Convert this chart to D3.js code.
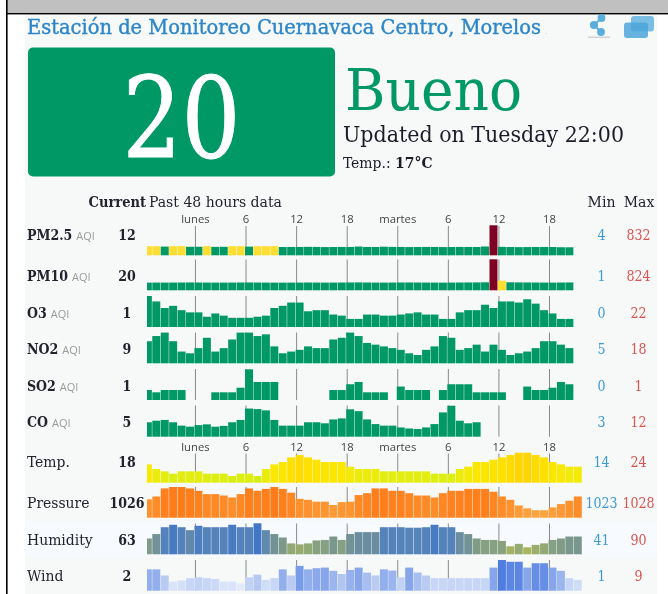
<!DOCTYPE html>
<html><head><meta charset="utf-8">
<script src="https://cdn.jsdelivr.net/npm/d3@7"></script>
<style>
html,body{margin:0;padding:0;background:#fff;overflow:hidden}
svg{display:block;filter:blur(0.35px)}
text{font-family:"DejaVu Serif Condensed","DejaVu Serif",serif}
.sans{font-family:"Open Sans","Noto Sans",sans-serif}
</style></head><body><div id="chart"></div>
<script>
const stationTitle = "Estación de Monitoreo Cuernavaca Centro, Morelos";
const currentAqi = 20, currentLevel = "Bueno", updatedText = "Updated on Tuesday 22:00";
const tickHours = [6,12,18,24,30,36,42,48];
const tickLabels = ["lunes","6","12","18","martes","6","12","18"];

const pm25 = [53,52,38,55,56,30,32,54,28,30,52,53,36,52,54,57,22,24,25,28,26,20,22,25,24,40,24,22,34,26,24,20,22,25,24,20,22,25,24,22,42,832,28,22,18,20,22,25,22,14,12];
const pm10 = [14,16,15,17,18,20,18,16,15,14,16,18,20,17,15,14,13,15,16,18,17,15,16,18,20,22,18,16,15,17,19,20,18,16,15,14,16,18,20,22,25,824,80,26,22,20,18,16,15,18,20];
const o3 = [22,17,11,13,9,7,7,3,6,4,2,2,2,3,4,11,13,16,16,8,9,9,5,4,1,1,5,5,4,4,5,6,7,5,5,1,1,7,9,9,14,11,17,17,16,19,15,9,6,1,1];
const no2 = [13,16,18,13,7,6,9,15,7,9,14,18,18,16,17,10,6,7,8,10,9,9,14,15,18,16,12,11,10,9,8,6,5,8,10,16,15,8,9,11,7,11,8,5,6,7,9,13,13,11,9];
const so2 = [.2,.1,.2,.2,.2,null,null,null,.1,.1,.1,.3,1.1,.55,.55,.55,null,null,null,null,null,null,.2,.2,.45,.55,.1,.1,.1,null,.35,.2,.2,.2,null,.2,.45,.45,.45,.1,.1,.1,.1,null,null,.35,.2,.2,.3,.55,.45];
const co = [5.6,6.2,6.5,5.6,4.3,3.9,4.5,4.8,3.9,4.2,5.6,6.5,10.9,10.7,10.2,6.5,4.3,4.3,4.3,5.6,5.6,5.2,6.7,7.1,10.6,9.9,6.7,4.9,4.3,4.3,3.6,3.2,3,3.6,4.9,9.4,12,6.2,5.2,5.6];
const temp = [19,17,16,15,16,16,16,15,15,15,14,15,15,14,17,19,20,22,23,22,21,20,20,20,18,17,17,17,16,16,16,16,16,16,15,15,15,17,18,20,20,21,22,23,24,24,23,22,20,19,18,18];
const pressure = [1025.4,1026,1027.7,1028,1028,1027.7,1027.2,1026.5,1026.5,1026.2,1025.8,1026.5,1027.7,1027.2,1027.6,1028,1027.6,1026.8,1025.5,1025.3,1024.9,1024.9,1024.2,1024.8,1024.9,1026.3,1026.7,1027.7,1027.7,1027.2,1027.2,1026.7,1026.2,1026.2,1025.8,1026.7,1027.2,1027.2,1027.6,1027.6,1027.6,1027,1026,1025.3,1024.1,1023.5,1023.1,1023.1,1023.7,1024.4,1025.1,1026];
const humidity = [59,68,82,87,82,76,85,82,82,82,87,82,82,90,76,68,61,49,47,49,55,56,63,56,68,72,72,72,82,82,82,81,81,82,87,82,82,72,68,59,56,56,54,43,48,41,46,49,56,59,63,63];
const wind = [5.8,5.8,3.7,1.6,2,2.8,3.1,2.8,2.5,1.6,1.6,1,3.1,4,2.2,2.8,5.8,3.7,7,5.8,6.2,6.4,5.3,4.2,5.6,6.4,4.7,3.7,5.8,5.4,3.1,6.4,4.7,3.7,2.8,2.8,2.8,2.8,2.8,2.8,2.8,6.4,9,8.4,8.4,6.4,7.9,7.9,6.4,5.3,2.8,2.2];

const rowNames = ["PM2.5","PM10","O3","NO2","SO2","CO","Temp.","Pressure","Humidity","Wind"];
const rowAqiTag = [true,true,true,true,true,true,false,false,false,false];
const rowCurrent = [12,20,1,9,1,5,18,1026,63,2];
const rowMin = [4,1,0,5,0,3,14,1023,41,1];
const rowMax = [832,824,22,18,1,12,24,1028,90,9];
const rowSeries = [pm25,pm10,o3,no2,so2,co,temp,pressure,humidity,wind];
const rowDomain = [[4,832],[1,824],[0,22],[5,18],[.1,1.1],[3,12],[14,24],[1023,1028],[41,90],[1,9]];

const W=668,H=594;
const svg=d3.select("#chart").append("svg").attr("width",W).attr("height",H);

// page frame
svg.append("rect").attr("x",7).attr("y",0).attr("width",W-7).attr("height",13).attr("fill","#c0c0c0");
svg.append("rect").attr("x",25).attr("y",14).attr("width",632).attr("height",H-14).attr("fill","#f7f9f9");
svg.append("rect").attr("x",25).attr("y",521).attr("width",632).attr("height",35).attr("fill","#f7fbff");
svg.append("rect").attr("x",6).attr("y",0).attr("width",1.6).attr("height",H).attr("fill","#000");
svg.append("rect").attr("x",6).attr("y",13).attr("width",W-6).attr("height",1.4).attr("fill","#000");

// header
svg.append("text").attr("x",27).attr("y",34).attr("font-size",20).attr("fill","#2c86c9").attr("stroke","#2c86c9").attr("stroke-width",0.35)
  .attr("textLength",514).attr("lengthAdjust","spacingAndGlyphs").text(stationTitle);
svg.append("text").attr("x",545).attr("y",34).attr("font-size",8).attr("fill","#9cc8e6").text(".");

// icons
const ic=svg.append("g").attr("fill","#5aaedc");
ic.append("path").attr("d","M601.5 18L594 25L601 32").attr("fill","none").attr("stroke","#5aaedc").attr("stroke-width",1.8);
[[601.5,18,3.9],[594,25,4.1],[601,32,3.9]].forEach(c=>ic.append("circle").attr("cx",c[0]).attr("cy",c[1]).attr("r",c[2]));
ic.append("rect").attr("x",588).attr("y",36.5).attr("width",22).attr("height",1.6).attr("fill","#cfd4d4");
ic.append("rect").attr("x",631).attr("y",16).attr("width",23).attr("height",15.5).attr("rx",3).attr("fill","#7cbde4");
ic.append("rect").attr("x",624).attr("y",22.5).attr("width",24).attr("height",15.5).attr("rx",3).attr("fill","#4ea6da").attr("opacity",.85);

const GREEN="#009966",YELLOW="#ffde33",MAROON="#7e0023";
svg.append("rect").attr("x",28).attr("y",47.5).attr("width",307).attr("height",129).attr("rx",5).attr("fill",GREEN);
svg.append("text").attr("x",181.5).attr("y",157).attr("text-anchor","middle").attr("font-size",112).attr("fill","#fff").attr("stroke","#fff").attr("stroke-width",0.8)
  .attr("textLength",118).attr("lengthAdjust","spacingAndGlyphs").text(currentAqi);
svg.append("text").attr("x",345).attr("y",110).attr("font-size",58).attr("fill",GREEN)
  .attr("textLength",177).attr("lengthAdjust","spacingAndGlyphs").text(currentLevel);
svg.append("text").attr("x",343).attr("y",142).attr("font-size",22).attr("fill","#1c1c28")
  .attr("textLength",281).attr("lengthAdjust","spacingAndGlyphs").text(updatedText);
const tempLine=svg.append("text").attr("x",343).attr("y",168).attr("font-size",15.5).attr("fill","#1c1c28");
tempLine.append("tspan").text("Temp.: ");
tempLine.append("tspan").attr("font-weight","bold").text("17°C");

// column heads
const headColor="#23232e";
svg.append("text").attr("x",146).attr("y",207).attr("text-anchor","end").attr("font-size",14.5).attr("font-weight","bold").attr("fill",headColor).text("Current");
svg.append("text").attr("x",149).attr("y",207).attr("font-size",15.6).attr("fill",headColor).text("Past 48 hours data");
svg.append("text").attr("x",601.5).attr("y",207).attr("text-anchor","middle").attr("font-size",15.6).attr("fill",headColor).text("Min");
svg.append("text").attr("x",639).attr("y",207).attr("text-anchor","middle").attr("font-size",15.6).attr("fill",headColor).text("Max");

// shared time scale
const x=d3.scaleLinear().domain([0,52]).range([143.87,582.23]);
const clip=svg.append("defs").append("clipPath").attr("id","plot");
clip.append("rect").attr("x",147).attr("y",200).attr("width",440).attr("height",400);

const rowBase=[255.3,290.3,327,363.3,400,436.7,482.7,517.7,554.3,590.7];
const rowLow=[7.8,7.3,7,8.3,7.7,7.7,6.7,7,7,7.3];
const rowHigh=[30,31,31,30.7,30.7,31,30,30.7,31,30.7];
const rowTickTop=[226,259.5,296,332.5,369,405.5,453.5,487,523.5,560];

const tempColor=d3.scaleLinear().domain([14,16,18,20,22,24]).range(["#d6ee12","#e3ee10","#f4ea08","#fbe600","#ffe000","#fed500"]);
const pressColor=d3.scaleLinear().domain([1023,1028]).range(["#ffa43f","#fe7d1a"]);
const humColor=d3.scaleLinear().domain([41,50,60,70,80,90]).range(["#aab55c","#8fa878","#7e9a88","#6f9099","#5885b8","#4276c6"]);
const windColor=d3.scaleLinear().domain([1,2,4,6,9]).range(["#e3eafa","#d3dff8","#b4c8f2","#8eabec","#4f7de2"]);
const aqiColor=v=>v<=50?GREEN:v<=100?YELLOW:MAROON;
const rowColor=[aqiColor,aqiColor,aqiColor,aqiColor,aqiColor,aqiColor,tempColor,pressColor,humColor,windColor];

rowNames.forEach((name,r)=>{
  const base=rowBase[r];
  const y=d3.scaleLinear().domain(rowDomain[r]).range([rowLow[r],rowHigh[r]]);
  const g=svg.append("g");
  g.selectAll("line").data(tickHours).join("line")
    .attr("x1",h=>x(h)+1).attr("x2",h=>x(h)+1)
    .attr("y1",rowTickTop[r]).attr("y2",base)
    .attr("stroke","#8a8a8a").attr("stroke-width",1);
  g.append("g").attr("clip-path","url(#plot)")
    .selectAll("rect").data(rowSeries[r].map((v,i)=>({v,i})).filter(d=>d.v!==null)).join("rect")
    .attr("x",d=>x(d.i)).attr("width",d=>x(d.i+1)-x(d.i)-0.45)
    .attr("y",d=>base-y(d.v)).attr("height",d=>y(d.v))
    .attr("fill",d=>rowColor[r](d.v));
});

// tick labels over the two groups of rows
[223,451].forEach(ty=>{
  svg.append("g").selectAll("text").data(tickHours).join("text").attr("class","sans")
    .attr("x",h=>x(h)+1).attr("y",ty).attr("text-anchor","middle").attr("font-size",11.3).attr("fill","#444")
    .text((h,i)=>tickLabels[i]);
});

// row text
const labelBase=[240,280.5,317.5,354,390.5,426.5,467,508,544.5,580.5];
rowNames.forEach((name,r)=>{
  const bold=rowAqiTag[r];
  const t=svg.append("text").attr("x",27).attr("y",labelBase[r]).attr("font-size",bold?14:15.5).attr("fill","#23232e")
    .attr("font-weight",bold?"bold":"normal").text(name);
  if(bold){
    const w=t.node().getComputedTextLength();
    svg.append("text").attr("class","sans").attr("x",27+w+4).attr("y",labelBase[r]).attr("font-size",11).attr("fill","#9a9a9a").text("AQI");
  }
  svg.append("text").attr("x",127).attr("y",labelBase[r]).attr("text-anchor","middle").attr("font-size",14).attr("font-weight","bold").attr("fill","#23232e").text(rowCurrent[r]);
  svg.append("text").attr("x",601.5).attr("y",labelBase[r]).attr("text-anchor","middle").attr("font-size",14).attr("fill","#3a9ad9").text(rowMin[r]);
  svg.append("text").attr("x",638.5).attr("y",labelBase[r]).attr("text-anchor","middle").attr("font-size",14).attr("fill","#d9534f").text(rowMax[r]);
});
</script></body></html>
